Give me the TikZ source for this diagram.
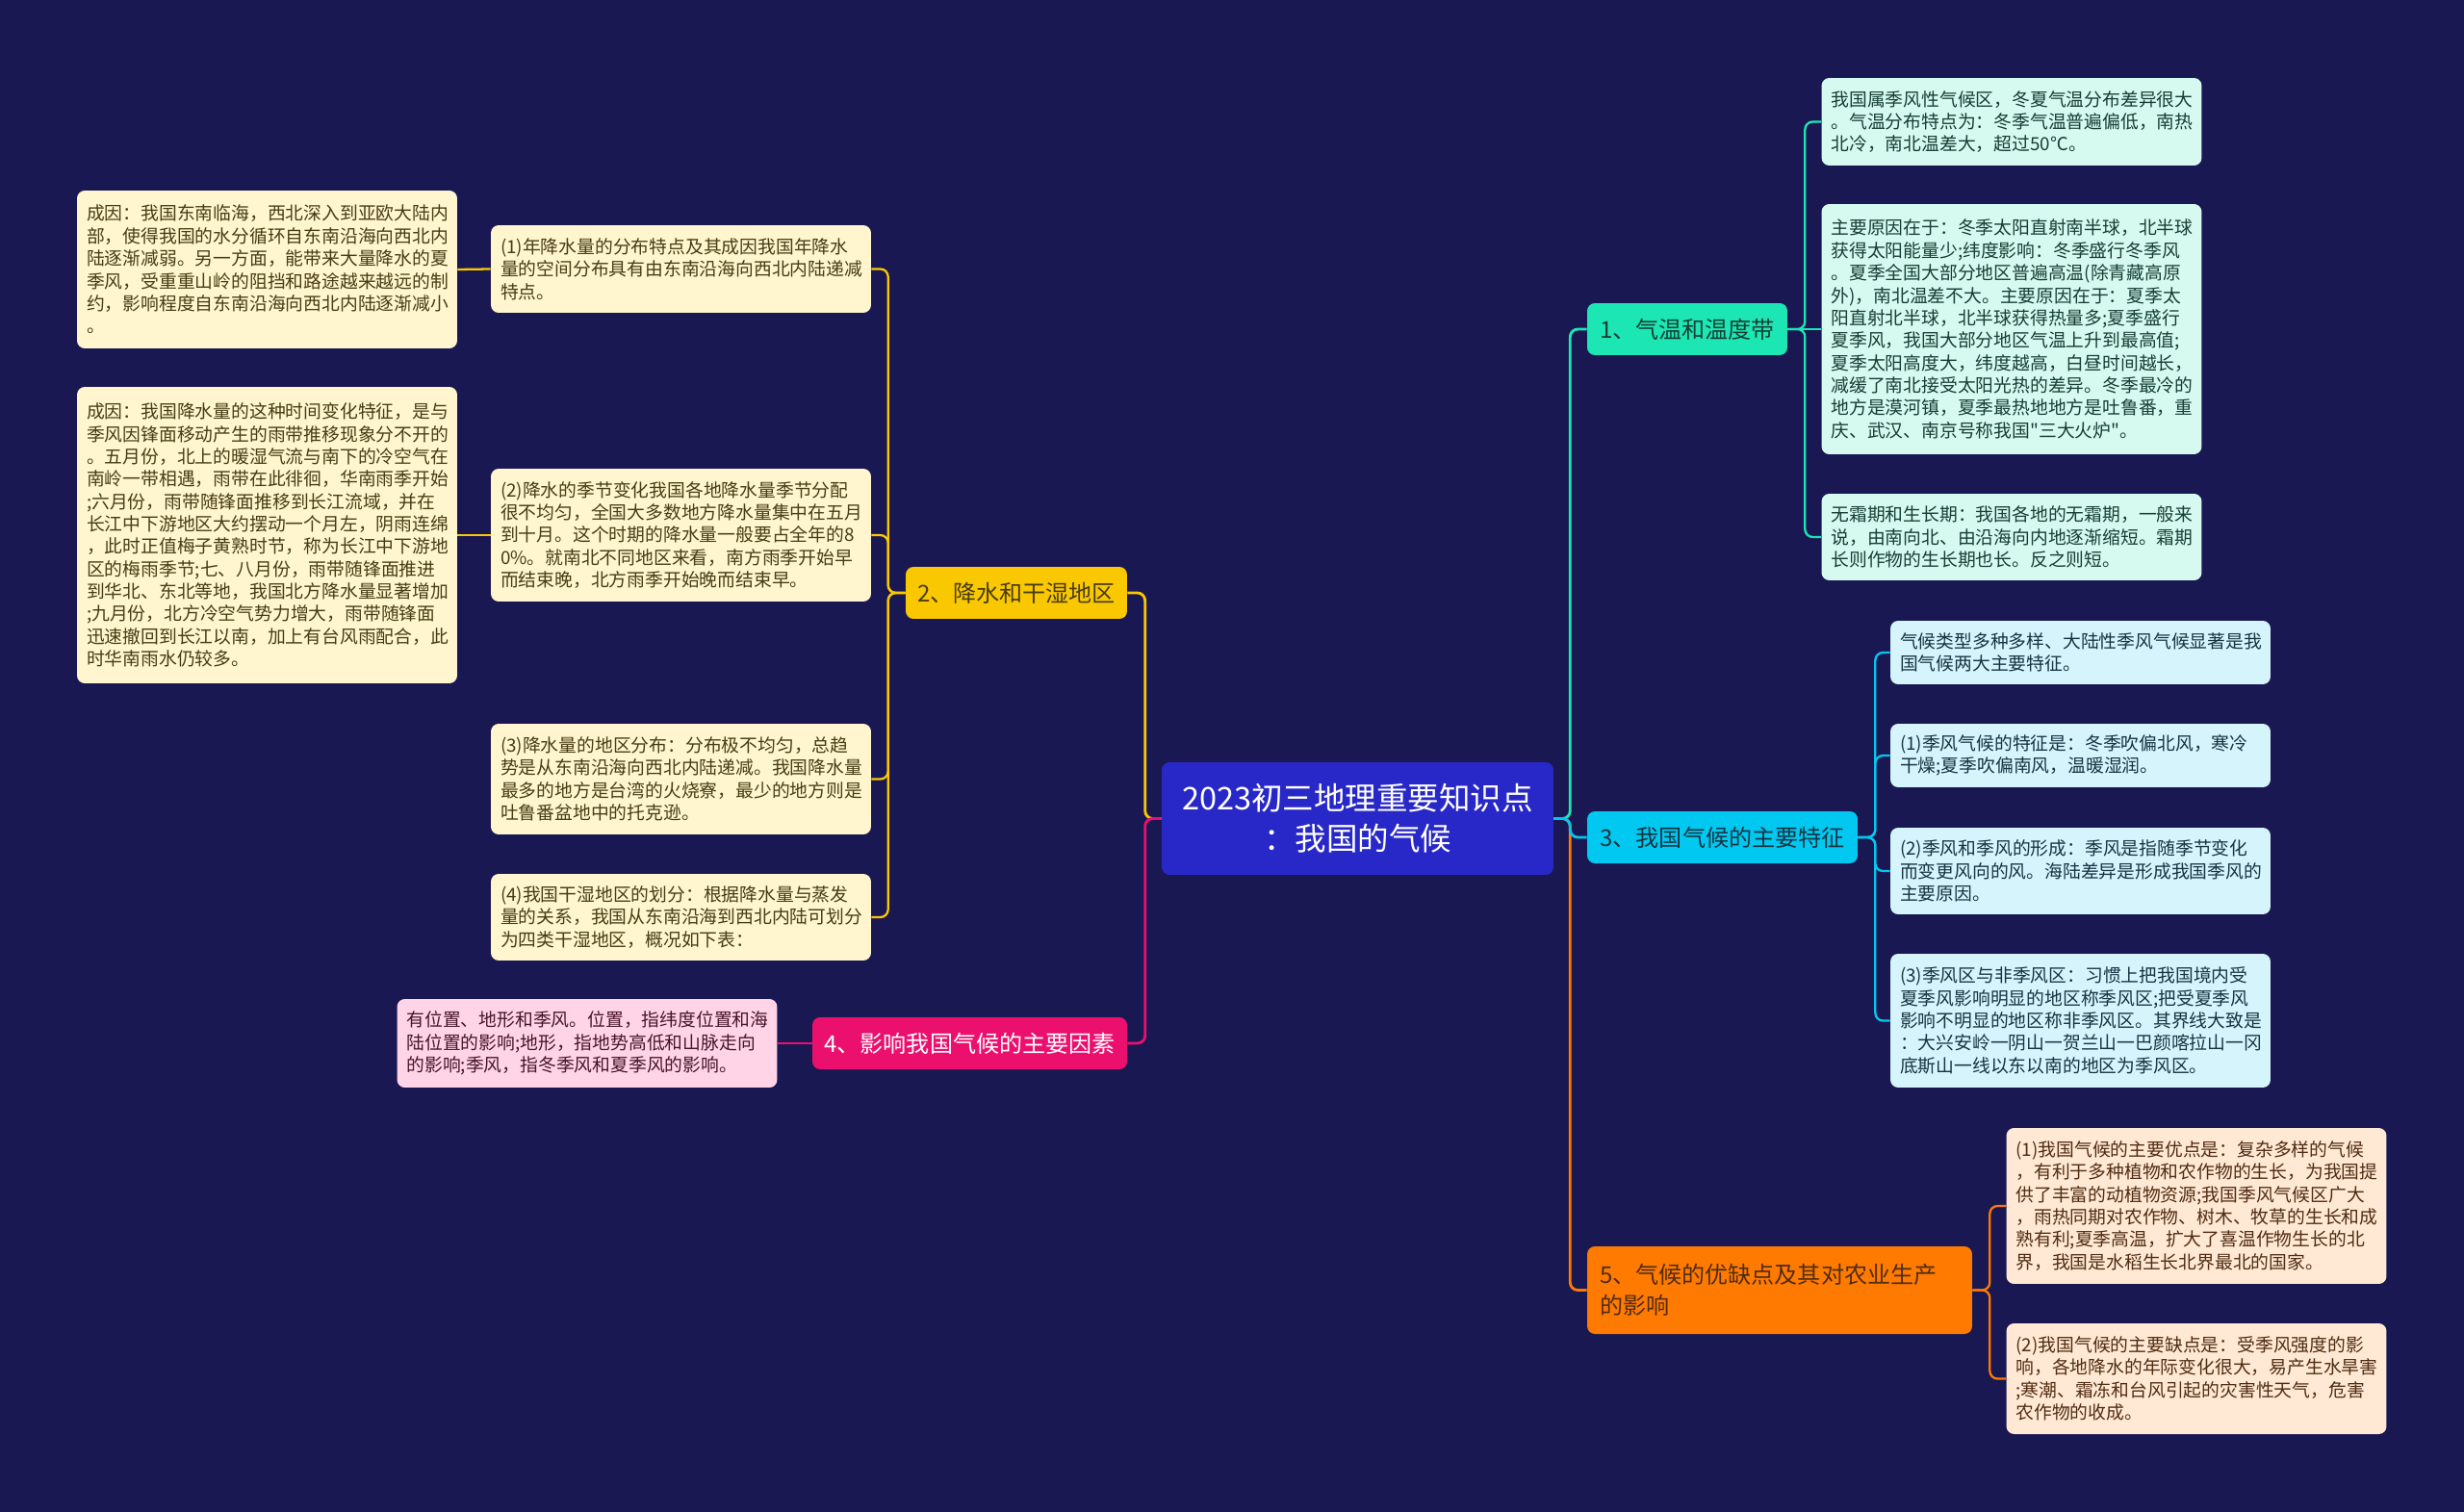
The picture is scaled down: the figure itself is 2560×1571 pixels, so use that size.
\documentclass[tikz,border=0pt]{standalone}
\usepackage{fontspec}
\setmainfont{Noto Sans CJK SC}[Ligatures=TeXOff]
\usepackage{xcolor}
\usepackage{tikz}
\definecolor{bgNavy}{RGB}{26,24,82}
\definecolor{rootBlue}{RGB}{40,40,200}
\definecolor{mintHead}{RGB}{28,230,180}
\definecolor{goldHead}{RGB}{250,200,0}
\definecolor{cyanHead}{RGB}{0,200,240}
\definecolor{roseHead}{RGB}{235,16,110}
\definecolor{amberHead}{RGB}{255,122,0}
\definecolor{mintLeaf}{RGB}{214,250,240}
\definecolor{goldLeaf}{RGB}{255,245,206}
\definecolor{cyanLeaf}{RGB}{214,244,252}
\definecolor{roseLeaf}{RGB}{255,212,230}
\definecolor{amberLeaf}{RGB}{255,232,212}
\definecolor{mintInk}{RGB}{22,62,52}
\definecolor{goldInk}{RGB}{72,60,20}
\definecolor{cyanInk}{RGB}{20,52,66}
\definecolor{roseInk}{RGB}{72,20,42}
\definecolor{amberInk}{RGB}{80,44,18}
\tikzset{
  leaf/.style={rounded corners=0.16cm, align=left, inner xsep=0.2cm, inner ysep=0pt,
    text width=7.5cm, font=\fontsize{10.7}{13.3}\selectfont},
  head/.style={rounded corners=0.16cm, align=center, inner sep=0pt,
    minimum height=1.08cm, font=\fontsize{13.7}{18.5}\selectfont},
  link/.style={line width=1.6pt, rounded corners=0.16cm},
  twig/.style={line width=1.3pt, rounded corners=0.16cm},
}

\begin{document}
\begin{tikzpicture}[x=0.02cm, y=-0.02cm]
  \fill[bgNavy] (0,0) rectangle (2560,1571);
  \useasboundingbox (0,0) rectangle (2560,1571);

  % ---- root
  \node[rounded corners=0.16cm, fill=rootBlue, text=white, align=center, inner sep=0pt,
        minimum width=8.14cm, minimum height=2.34cm, font=\fontsize{18.5}{23.8}\selectfont]
        (root) at (1410.5,850.5) {2023初三地理重要知识点\\：我国的气候};

  % ---- heads
  \node[head, fill=mintHead, text=mintInk, minimum width=4.16cm] (h1) at (1753,342) {1、气温和温度带};
  \node[head, fill=goldHead, text=goldInk, minimum width=4.6cm] (h2) at (1056,616) {2、降水和干湿地区};
  \node[head, fill=cyanHead, text=cyanInk, minimum width=5.62cm] (h3) at (1789.5,870) {3、我国气候的主要特征};
  \node[head, fill=roseHead, text=white, minimum width=6.54cm] (h4) at (1007.5,1084) {4、影响我国气候的主要因素};
  \node[head, fill=amberHead, text=amberInk, align=left, inner xsep=0.26cm, text width=7.48cm,
        minimum height=1.82cm] (h5) at (1849,1340.5) {5、气候的优缺点及其对农业生产\\的影响};

  \draw[link, mintHead] (root.east) -- ++(17,0) |- (h1.west);
  \draw[link, amberHead] (root.east) -- ++(17,0) |- (h5.west);
  \draw[link, cyanHead] (root.east) -- ++(17,0) |- (h3.west);
  \draw[link, goldHead] (root.west) -- ++(-17,0) |- (h2.east);
  \draw[link, roseHead] (root.west) -- ++(-17,0) |- (h4.east);

  % ---- branch 1
  \node[leaf, fill=mintLeaf, text=mintInk, minimum height=1.82cm] (r1a) at (2090,126.5)
    {我国属季风性气候区，冬夏气温分布差异很大\\
     。气温分布特点为：冬季气温普遍偏低，南热\\
     北冷，南北温差大，超过50℃。};
  \node[leaf, fill=mintLeaf, text=mintInk, minimum height=5.2cm] (r1b) at (2090,342)
    {主要原因在于：冬季太阳直射南半球，北半球\\
     获得太阳能量少;纬度影响：冬季盛行冬季风\\
     。夏季全国大部分地区普遍高温(除青藏高原\\
     外)，南北温差不大。主要原因在于：夏季太\\
     阳直射北半球，北半球获得热量多;夏季盛行\\
     夏季风，我国大部分地区气温上升到最高值;\\
     夏季太阳高度大，纬度越高，白昼时间越长，\\
     减缓了南北接受太阳光热的差异。冬季最冷的\\
     地方是漠河镇，夏季最热地地方是吐鲁番，重\\
     庆、武汉、南京号称我国"三大火炉"。};
  \node[leaf, fill=mintLeaf, text=mintInk, minimum height=1.8cm] (r1c) at (2090,558)
    {无霜期和生长期：我国各地的无霜期，一般来\\
     说，由南向北、由沿海向内地逐渐缩短。霜期\\
     长则作物的生长期也长。反之则短。};
  \draw[twig, mintHead] (h1.east) -- ++(18,0) |- (r1a.west);
  \draw[twig, mintHead] (h1.east) -- (r1b.west);
  \draw[twig, mintHead] (h1.east) -- ++(18,0) |- (r1c.west);

  % ---- branch 2
  \node[leaf, fill=goldLeaf, text=goldInk, minimum height=1.82cm] (l2a) at (707.5,279.5)
    {(1)年降水量的分布特点及其成因我国年降水\\
     量的空间分布具有由东南沿海向西北内陆递减\\
     特点。};
  \node[leaf, fill=goldLeaf, text=goldInk, minimum height=2.76cm] (l2b) at (707.5,556)
    {(2)降水的季节变化我国各地降水量季节分配\\
     很不均匀，全国大多数地方降水量集中在五月\\
     到十月。这个时期的降水量一般要占全年的8\\
     0\%。就南北不同地区来看，南方雨季开始早\\
     而结束晚，北方雨季开始晚而结束早。};
  \node[leaf, fill=goldLeaf, text=goldInk, minimum height=2.3cm] (l2c) at (707.5,809.5)
    {(3)降水量的地区分布：分布极不均匀，总趋\\
     势是从东南沿海向西北内陆递减。我国降水量\\
     最多的地方是台湾的火烧寮，最少的地方则是\\
     吐鲁番盆地中的托克逊。};
  \node[leaf, fill=goldLeaf, text=goldInk, minimum height=1.8cm] (l2d) at (707.5,953)
    {(4)我国干湿地区的划分：根据降水量与蒸发\\
     量的关系，我国从东南沿海到西北内陆可划分\\
     为四类干湿地区，概况如下表：};
  \node[leaf, fill=goldLeaf, text=goldInk, minimum height=3.28cm] (c2a) at (277.5,280)
    {成因：我国东南临海，西北深入到亚欧大陆内\\
     部，使得我国的水分循环自东南沿海向西北内\\
     陆逐渐减弱。另一方面，能带来大量降水的夏\\
     季风，受重重山岭的阻挡和路途越来越远的制\\
     约，影响程度自东南沿海向西北内陆逐渐减小\\
     。};
  \node[leaf, fill=goldLeaf, text=goldInk, minimum height=6.16cm] (c2b) at (277.5,556)
    {成因：我国降水量的这种时间变化特征，是与\\
     季风因锋面移动产生的雨带推移现象分不开的\\
     。五月份，北上的暖湿气流与南下的冷空气在\\
     南岭一带相遇，雨带在此徘徊，华南雨季开始\\
     ;六月份，雨带随锋面推移到长江流域，并在\\
     长江中下游地区大约摆动一个月左，阴雨连绵\\
     ，此时正值梅子黄熟时节，称为长江中下游地\\
     区的梅雨季节;七、八月份，雨带随锋面推进\\
     到华北、东北等地，我国北方降水量显著增加\\
     ;九月份，北方冷空气势力增大，雨带随锋面\\
     迅速撤回到长江以南，加上有台风雨配合，此\\
     时华南雨水仍较多。};
  \draw[twig, goldHead] (h2.west) -- ++(-18,0) |- (l2a.east);
  \draw[twig, goldHead] (h2.west) -- ++(-18,0) |- (l2b.east);
  \draw[twig, goldHead] (h2.west) -- ++(-18,0) |- (l2c.east);
  \draw[twig, goldHead] (h2.west) -- ++(-18,0) |- (l2d.east);
  \draw[twig, goldHead] (l2a.west) -- (c2a.east);
  \draw[twig, goldHead] (l2b.west) -- (c2b.east);

  % ---- branch 3
  \node[leaf, fill=cyanLeaf, text=cyanInk, minimum height=1.32cm] (r3a) at (2161.5,678)
    {气候类型多种多样、大陆性季风气候显著是我\\
     国气候两大主要特征。};
  \node[leaf, fill=cyanLeaf, text=cyanInk, minimum height=1.32cm] (r3b) at (2161.5,785)
    {(1)季风气候的特征是：冬季吹偏北风，寒冷\\
     干燥;夏季吹偏南风，温暖湿润。};
  \node[leaf, fill=cyanLeaf, text=cyanInk, minimum height=1.8cm] (r3c) at (2161.5,905)
    {(2)季风和季风的形成：季风是指随季节变化\\
     而变更风向的风。海陆差异是形成我国季风的\\
     主要原因。};
  \node[leaf, fill=cyanLeaf, text=cyanInk, minimum height=2.78cm] (r3d) at (2161.5,1060.5)
    {(3)季风区与非季风区：习惯上把我国境内受\\
     夏季风影响明显的地区称季风区;把受夏季风\\
     影响不明显的地区称非季风区。其界线大致是\\
     ：大兴安岭一阴山一贺兰山一巴颜喀拉山一冈\\
     底斯山一线以东以南的地区为季风区。};
  \draw[twig, cyanHead] (h3.east) -- ++(18,0) |- (r3a.west);
  \draw[twig, cyanHead] (h3.east) -- ++(18,0) |- (r3b.west);
  \draw[twig, cyanHead] (h3.east) -- ++(18,0) |- (r3c.west);
  \draw[twig, cyanHead] (h3.east) -- ++(18,0) |- (r3d.west);

  % ---- branch 4
  \node[leaf, fill=roseLeaf, text=roseInk, minimum height=1.84cm] (l4a) at (610,1084)
    {有位置、地形和季风。位置，指纬度位置和海\\
     陆位置的影响;地形，指地势高低和山脉走向\\
     的影响;季风，指冬季风和夏季风的影响。};
  \draw[twig, roseHead] (h4.west) -- (l4a.east);

  % ---- branch 5
  \node[leaf, fill=amberLeaf, text=amberInk, minimum height=3.24cm] (r5a) at (2282,1253)
    {(1)我国气候的主要优点是：复杂多样的气候\\
     ，有利于多种植物和农作物的生长，为我国提\\
     供了丰富的动植物资源;我国季风气候区广大\\
     ，雨热同期对农作物、树木、牧草的生长和成\\
     熟有利;夏季高温，扩大了喜温作物生长的北\\
     界，我国是水稻生长北界最北的国家。};
  \node[leaf, fill=amberLeaf, text=amberInk, minimum height=2.3cm] (r5b) at (2282,1432.5)
    {(2)我国气候的主要缺点是：受季风强度的影\\
     响，各地降水的年际变化很大，易产生水旱害\\
     ;寒潮、霜冻和台风引起的灾害性天气，危害\\
     农作物的收成。};
  \draw[twig, amberHead] (h5.east) -- ++(18,0) |- (r5a.west);
  \draw[twig, amberHead] (h5.east) -- ++(18,0) |- (r5b.west);
\end{tikzpicture}
\end{document}
